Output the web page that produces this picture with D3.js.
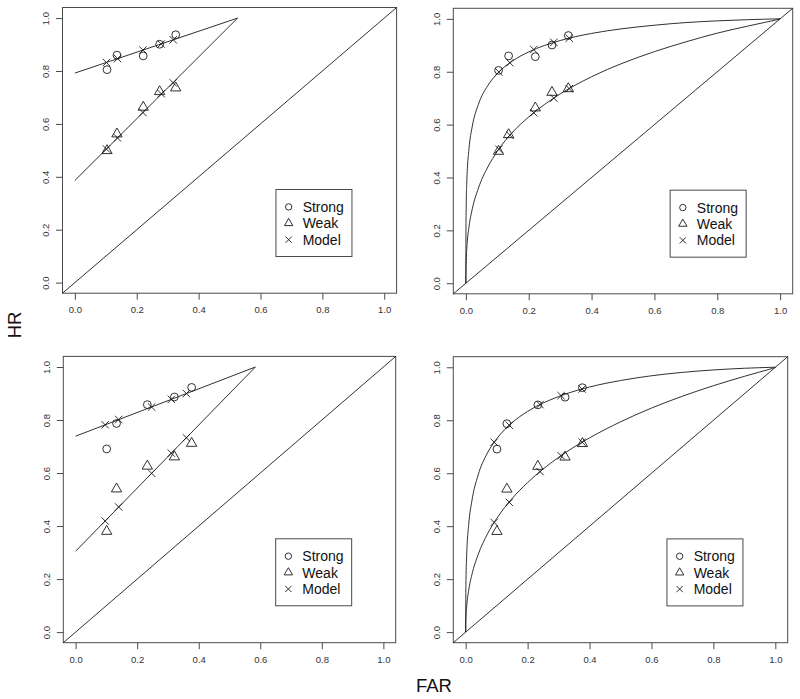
<!DOCTYPE html>
<html><head><meta charset="utf-8">
<script src="https://cdnjs.cloudflare.com/ajax/libs/d3/7.8.5/d3.min.js"></script>
<style>body{margin:0;background:#fff}svg{display:block}</style>
</head><body><svg id="c" width="800" height="699"></svg>
<script>
// ---------- data ----------
const tickValues = [0, 0.2, 0.4, 0.6, 0.8, 1.0];
const tickLabels = ["0.0", "0.2", "0.4", "0.6", "0.8", "1.0"];
const legendLabels = ["Strong", "Weak", "Model"];
const xTitle = "FAR";
const yTitle = "HR";

// Experiment 1 (top row) observed
const farExp1 = [0.104, 0.136, 0.221, 0.274, 0.326];
const hrStrongExp1 = [0.805, 0.860, 0.857, 0.901, 0.937];
const hrWeakExp1 = [0.499, 0.562, 0.663, 0.722, 0.736];
// Experiment 2 (bottom row) observed
const farExp2 = [0.101, 0.133, 0.233, 0.321, 0.377];
const hrStrongExp2 = [0.691, 0.787, 0.858, 0.887, 0.923];
const hrWeakExp2 = [0.380, 0.540, 0.626, 0.661, 0.712];

// Linear model (left column)
const linModelFar1 = [0.102, 0.138, 0.220, 0.279, 0.318];
const linModelStrong1 = [0.832, 0.847, 0.879, 0.902, 0.918];
const linModelWeak1 = [0.505, 0.547, 0.643, 0.714, 0.755];
const linLineStrong1 = [[0, 0.792], [0.526, 1.0]];
const linLineWeak1 = [[0, 0.386], [0.526, 1.0]];

const linModelFar2 = [0.096, 0.140, 0.247, 0.311, 0.360];
const linModelStrong2 = [0.782, 0.802, 0.849, 0.878, 0.900];
const linModelWeak2 = [0.419, 0.472, 0.599, 0.675, 0.733];
const linLineStrong2 = [[0, 0.739], [0.584, 1.0]];
const linLineWeak2 = [[0, 0.305], [0.584, 1.0]];

// Curved model (right column)
const curModelFar1 = [0.105, 0.140, 0.216, 0.280, 0.329];
const curModelStrong1 = [0.799, 0.834, 0.884, 0.911, 0.927];
const curModelWeak1 = [0.507, 0.560, 0.645, 0.700, 0.736];
const curModelFar2 = [0.092, 0.141, 0.240, 0.308, 0.376];
const curModelStrong2 = [0.717, 0.781, 0.859, 0.893, 0.918];
const curModelWeak2 = [0.414, 0.490, 0.606, 0.666, 0.717];

const curveFar = [0, 0.0001, 0.001, 0.003, 0.01, 0.02, 0.04, 0.07, 0.1, 0.15, 0.2, 0.3, 0.4, 0.5, 0.6, 0.7, 0.8, 0.9, 0.95, 0.99, 1];
const curveStrong1 = [0, 0.150, 0.288, 0.383, 0.509, 0.591, 0.677, 0.748, 0.793, 0.842, 0.875, 0.918, 0.945, 0.963, 0.976, 0.986, 0.9925, 0.9971, 0.9988, 0.9999, 1];
const curveWeak1 = [0, 0.0324, 0.0853, 0.133, 0.214, 0.279, 0.360, 0.440, 0.499, 0.573, 0.629, 0.716, 0.781, 0.833, 0.876, 0.913, 0.946, 0.9735, 0.9864, 0.9968, 1];
const curveStrong2 = [0, 0.0879, 0.1985, 0.284, 0.409, 0.4956, 0.5925, 0.676, 0.7297, 0.791, 0.8335, 0.8895, 0.9255, 0.950, 0.968, 0.9808, 0.990, 0.9963, 0.9985, 0.99997, 1];
const curveWeak2 = [0, 0.0186, 0.0557, 0.0926, 0.1596, 0.2168, 0.292, 0.370, 0.4286, 0.5048, 0.5647, 0.660, 0.7334, 0.794, 0.846, 0.8907, 0.9304, 0.9658, 0.9824, 0.9958, 1];

// ---------- layout ----------
const FONT = "'Liberation Sans', Arial, Helvetica, sans-serif";
const panels = [
  {x0: 62.5, x1: 396.6, y0: 7.5, y1: 293.2, far: farExp1, hs: hrStrongExp1, hw: hrWeakExp1,
   mf: linModelFar1, ms: linModelStrong1, mw: linModelWeak1, lines: [linLineStrong1, linLineWeak1]},
  {x0: 453.3, x1: 792.7, y0: 8.3, y1: 293.8, far: farExp1, hs: hrStrongExp1, hw: hrWeakExp1,
   mf: curModelFar1, ms: curModelStrong1, mw: curModelWeak1,
   lines: [curveFar.map((f, i) => [f, curveStrong1[i]]), curveFar.map((f, i) => [f, curveWeak1[i]])], curved: true},
  {x0: 63.3, x1: 395.7, y0: 356.4, y1: 642.7, far: farExp2, hs: hrStrongExp2, hw: hrWeakExp2,
   mf: linModelFar2, ms: linModelStrong2, mw: linModelWeak2, lines: [linLineStrong2, linLineWeak2]},
  {x0: 453.3, x1: 787.7, y0: 356.7, y1: 642.7, far: farExp2, hs: hrStrongExp2, hw: hrWeakExp2,
   mf: curModelFar2, ms: curModelStrong2, mw: curModelWeak2,
   lines: [curveFar.map((f, i) => [f, curveStrong2[i]]), curveFar.map((f, i) => [f, curveWeak2[i]])], curved: true}
];

const svg = d3.select("#c");
const LINE = "#1a1a1a", BOX = "#4a4a4a", TXT = "#333";

function crossPath(h) { return `M${-h},${-h}L${h},${h}M${-h},${h}L${h},${-h}`; }
const triData = d3.symbol().type(d3.symbolTriangle).size(46)();
const triLeg = d3.symbol().type(d3.symbolTriangle).size(30)();

function drawPanel(p) {
  const x = d3.scaleLinear().domain([-0.04, 1.04]).range([p.x0, p.x1]);
  const y = d3.scaleLinear().domain([-0.04, 1.04]).range([p.y1, p.y0]);
  const g = svg.append("g");

  // x axis
  const ax = g.append("g").attr("transform", `translate(0,${p.y1})`)
    .call(d3.axisBottom(x).tickValues(tickValues).tickFormat((d, i) => tickLabels[i])
      .tickSize(6.5).tickSizeOuter(0).tickPadding(7));
  ax.select(".domain").remove();
  ax.selectAll("line").attr("stroke", BOX);
  ax.selectAll("text").attr("font-family", FONT).attr("font-size", 9.5).attr("fill", TXT);

  // y axis
  const ay = g.append("g").attr("transform", `translate(${p.x0},0)`)
    .call(d3.axisLeft(y).tickValues(tickValues).tickFormat((d, i) => tickLabels[i])
      .tickSize(6.5).tickSizeOuter(0));
  ay.select(".domain").remove();
  ay.selectAll("line").attr("stroke", BOX);
  ay.selectAll("text").attr("font-family", FONT).attr("font-size", 9.5).attr("fill", TXT)
    .attr("x", null).attr("dy", "0.35em").attr("text-anchor", "middle")
    .attr("transform", "translate(-17,0) rotate(-90)");

  // box
  g.append("rect").attr("x", p.x0).attr("y", p.y0)
    .attr("width", p.x1 - p.x0).attr("height", p.y1 - p.y0)
    .attr("fill", "none").attr("stroke", BOX).attr("stroke-width", 1);

  // diagonal
  g.append("line").attr("x1", x(-0.04)).attr("y1", y(-0.04)).attr("x2", x(1.04)).attr("y2", y(1.04))
    .attr("stroke", LINE).attr("stroke-width", 0.9);

  // model lines / curves
  const lineGen = d3.line().x(d => x(d[0])).y(d => y(d[1]));
  if (p.curved) lineGen.curve(d3.curveMonotoneX);
  p.lines.forEach(L => g.append("path").attr("d", lineGen(L)).attr("fill", "none")
    .attr("stroke", LINE).attr("stroke-width", 0.9));

  // observed strong (circles)
  g.selectAll(null).data(p.far.map((f, i) => [f, p.hs[i]])).enter().append("circle")
    .attr("cx", d => x(d[0])).attr("cy", d => y(d[1])).attr("r", 3.9)
    .attr("fill", "none").attr("stroke", LINE).attr("stroke-width", 0.9);
  // observed weak (triangles)
  g.selectAll(null).data(p.far.map((f, i) => [f, p.hw[i]])).enter().append("path")
    .attr("d", triData).attr("transform", d => `translate(${x(d[0])},${y(d[1])})`)
    .attr("fill", "none").attr("stroke", LINE).attr("stroke-width", 0.9);
  // model (crosses)
  const mp = p.mf.map((f, i) => [f, p.ms[i]]).concat(p.mf.map((f, i) => [f, p.mw[i]]));
  g.selectAll(null).data(mp).enter().append("path")
    .attr("d", crossPath(3.7)).attr("transform", d => `translate(${x(d[0])},${y(d[1])})`)
    .attr("fill", "none").attr("stroke", LINE).attr("stroke-width", 0.9);

  // legend
  const lx = x(0.65), ly = y(0.352);
  const lg = g.append("g").attr("transform", `translate(${lx},${ly})`);
  lg.append("rect").attr("x", 0).attr("y", 0).attr("width", 76).attr("height", 67)
    .attr("fill", "#fff").attr("stroke", BOX).attr("stroke-width", 1);
  const rows = [17.4, 33.7, 50.2];
  legendLabels.forEach((lab, i) => {
    const sx = 12.7, sy = rows[i];
    if (i === 0) lg.append("circle").attr("cx", sx).attr("cy", sy).attr("r", 3.2)
      .attr("fill", "none").attr("stroke", LINE).attr("stroke-width", 0.9);
    else if (i === 1) lg.append("path").attr("d", triLeg).attr("transform", `translate(${sx},${sy})`)
      .attr("fill", "none").attr("stroke", LINE).attr("stroke-width", 0.9);
    else lg.append("path").attr("d", crossPath(3.1)).attr("transform", `translate(${sx},${sy})`)
      .attr("fill", "none").attr("stroke", LINE).attr("stroke-width", 0.9);
    lg.append("text").attr("x", 26.7).attr("y", sy).attr("dy", "0.36em")
      .attr("font-family", FONT).attr("font-size", 14).attr("fill", "#111").text(lab);
  });
}

panels.forEach(drawPanel);

// outer titles
svg.append("text").attr("x", 434).attr("y", 685).attr("text-anchor", "middle").attr("dy", "0.36em")
  .attr("font-family", FONT).attr("font-size", 18.5).attr("fill", "#111").text(xTitle);
svg.append("text").attr("transform", "translate(14,325) rotate(-90)").attr("text-anchor", "middle")
  .attr("dy", "0.36em").attr("font-family", FONT).attr("font-size", 18.5).attr("fill", "#111").text(yTitle);
</script>
</body></html>
